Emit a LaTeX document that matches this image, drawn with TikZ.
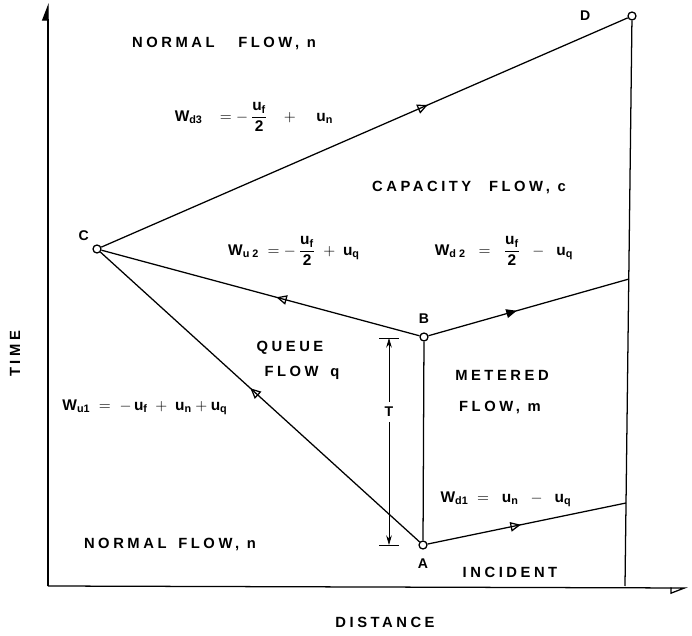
\documentclass[tikz,border=0pt]{standalone}
\usepackage{amsmath}
\usepackage{fontspec}
\setmainfont{Liberation Sans}
\newfontfamily\lblfont{Liberation Sans}[LetterSpace=24]
\usetikzlibrary{arrows.meta,decorations.markings}

% flow variable with a subscript, set in the text font
\newcommand{\tv}[2]{\text{#1}_{\text{#2}}}
\newcommand{\half}[1]{\dfrac{#1}{\text{2}}}

\begin{document}
\begin{tikzpicture}[x=0.025cm, y=-0.025cm,
    font=\bfseries\fontsize{10}{12}\selectfont,
    trace/.style={line width=0.9pt},
    dimline/.style={line width=0.5pt},
    pt/.style={draw, circle, line width=0.9pt, minimum size=2mm, inner sep=0pt, fill=white},
    region/.style={font=\lblfont\bfseries\fontsize{10.5}{12}\selectfont},
    eqn/.style={font=\bfseries\fontsize{11}{13}\selectfont},
    midopen/.style={postaction={decorate}, decoration={markings,
        mark=at position #1 with {\arrow{Triangle[open, length=2.6mm, width=2.4mm]}}}},
    midfill/.style={postaction={decorate}, decoration={markings,
        mark=at position #1 with {\arrow{Triangle[length=2.6mm, width=2.2mm]}}}}
  ]
  \useasboundingbox (0,0) rectangle (692,636);

  % axes
  \coordinate (O)    at (48,586);
  \coordinate (Ytop) at (48,3);
  \coordinate (Xend) at (688,588);
  \draw[trace, -{Triangle[harpoon, length=4mm, width=3mm]}] (O) -- (Ytop);
  \draw[trace, -{Triangle[open, harpoon, swap, length=4mm, width=3mm]}] (O) -- (Xend);

  % corner points of the wave diagram
  \node[pt] (C) at (97,249)  {};
  \node[pt] (B) at (424,337) {};
  \node[pt] (A) at (423,545) {};
  \node[pt] (D) at (632,16)  {};
  \coordinate (Dfoot) at (625,586);
  \coordinate (Bend)  at (629,279);
  \coordinate (Aend)  at (626,503);

  \node[anchor=south east] at (C.north west) {C};
  \node[anchor=south] at ([yshift=1mm]B.north) {B};
  \node[anchor=north] at ([yshift=-1mm]A.south) {A};
  \node[anchor=east] at ([xshift=-8mm]D.west) {D};

  % shock and wave lines
  \draw[trace] (D) -- (Dfoot);
  \draw[trace] (A) -- (B);
  \draw[trace, midopen=0.62] (C) -- (D);
  \draw[trace, midopen=0.45] (B) -- (C);
  \draw[trace, midopen=0.53] (A) -- (C);
  \draw[trace, midfill=0.44] (B) -- (Bend);
  \draw[trace, midopen=0.47] (A) -- (Aend);

  % duration T
  \coordinate (Ttop) at (389,338);
  \coordinate (Tbot) at (389,545);
  \draw[dimline] ([xshift=-2.5mm]Ttop) -- ([xshift=2.5mm]Ttop);
  \draw[dimline] ([xshift=-2.5mm]Tbot) -- ([xshift=2.5mm]Tbot);
  \node (Tlbl) at (389,412) {T};
  \draw[dimline, -{Stealth[length=2.4mm, width=1.4mm]}] (Tlbl) -- (Ttop);
  \draw[dimline, -{Stealth[length=2.4mm, width=1.4mm]}] (Tlbl) -- (Tbot);

  % flow regions
  \node[region] (nTop)  at (224,43)  {NORMAL\hspace{1.6em}FLOW, n};
  \node[region] (cap)   at (469,187) {CAPACITY\hspace{1.2em}FLOW, c};
  \node[region] (queue) at (290,348) {QUEUE};
  \node[region] (qflow) at (302,373) {FLOW\hspace{0.8em}q};
  \node[region] (met)   at (502,375) {METERED};
  \node[region] (mflow) at (500,407) {FLOW, m};
  \node[region] (nBot)  at (170,544) {NORMAL\hspace{0.8em}FLOW, n};
  \node[region] (inc)   at (510,572) {INCIDENT};

  % wave speeds
  \node[eqn] (wd3) at (254,117) {$\tv{W}{d3}\;\;\;=-\,\half{\tv{u}{f}}\;\;\;+\;\;\;\;\tv{u}{n}$};
  \node[eqn] (wu2) at (294,251) {$\tv{W}{u 2}\;=-\,\half{\tv{u}{f}}\;+\;\tv{u}{q}$};
  \node[eqn] (wd2) at (504,251) {$\tv{W}{d 2}\;\;=\;\;\half{\tv{u}{f}}\;\;-\;\;\tv{u}{q}$};
  \node[eqn] (wu1) at (145,407) {$\tv{W}{u1}\;=\;-\,\tv{u}{f}\;+\;\tv{u}{n}+\tv{u}{q}$};
  \node[eqn] (wd1) at (506,499) {$\tv{W}{d1}\;=\;\;\tv{u}{n}\;\;-\;\;\tv{u}{q}$};

  % axis titles
  \node[region, rotate=90] (time) at (15,354) {TIME};
  \node[region] (dist) at (385,622) {DISTANCE};
\end{tikzpicture}
\end{document}
